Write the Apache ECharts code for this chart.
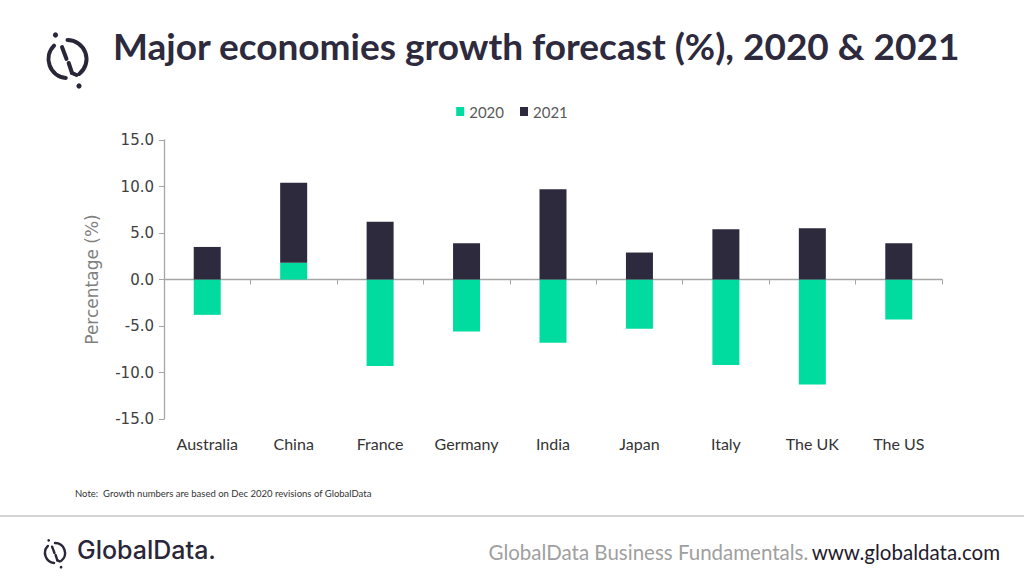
<!DOCTYPE html>
<html>
<head>
<meta charset="utf-8">
<script src="https://cdn.jsdelivr.net/npm/echarts@6/dist/echarts.min.js"></script>
<style>
html,body{margin:0;padding:0;background:#fff;}
#c{width:1024px;height:585px;}
</style>
</head>
<body>
<div id="c"></div>
<script>
var categories = ['Australia','China','France','Germany','India','Japan','Italy','The UK','The US'];
var values2020 = [-3.8, 1.8, -9.3, -5.6, -6.8, -5.3, -9.2, -11.3, -4.3];
var values2021 = [3.5, 8.6, 6.2, 3.9, 9.7, 2.9, 5.4, 5.5, 3.9];
var seriesNames = ['2020','2021'];
var yTicks = {min: -15, max: 15, interval: 5};

var GREEN = '#00dca0', DARK = '#2e2a3d', INK = '#2d2a3e';

function logo(cx, cy, r, lw){
  var col = '#2a2639';
  var d = r/19;
  return {
    type:'group', silent:true,
    children:[
      {type:'arc', shape:{cx:cx, cy:cy, r:r, startAngle:Math.PI*95/180, endAngle:Math.PI*225/180, clockwise:true}, style:{stroke:col, lineWidth:lw, fill:null, lineCap:'round'}},
      {type:'arc', shape:{cx:cx, cy:cy, r:r, startAngle:Math.PI*270/180, endAngle:Math.PI*412/180, clockwise:true}, style:{stroke:col, lineWidth:lw, fill:null, lineCap:'round'}},
      {type:'line', shape:{x1:cx-5.5*d, y1:cy-12*d, x2:cx-1*d, y2:cy+0*d}, style:{stroke:col, lineWidth:lw, lineCap:'round'}},
      {type:'line', shape:{x1:cx+1.2*d, y1:cy+4*d, x2:cx+4.5*d, y2:cy+14*d}, style:{stroke:col, lineWidth:lw, lineCap:'round'}},
      {type:'line', shape:{x1:cx+4.5*d, y1:cy+14*d, x2:cx+9*d, y2:cy+16*d}, style:{stroke:col, lineWidth:lw, lineCap:'round'}},
      {type:'circle', shape:{cx:cx-12*d, cy:cy-24*d, r:2.6*d}, style:{fill:col}},
      {type:'circle', shape:{cx:cx+11.5*d, cy:cy+27*d, r:2.6*d}, style:{fill:col}}
    ]
  };
}

var chart = echarts.init(document.getElementById('c'), null, {renderer:'svg'});
chart.setOption({
  animation:false,
  backgroundColor:'#fff',
  grid:{left:164, right:82, top:140, bottom:166, containLabel:false},
  legend:{
    data:seriesNames, top:99, left:'center',
    itemWidth:8, itemHeight:9, itemGap:16,
    icon:'rect',
    textStyle:{fontFamily:'Lato', fontSize:15, color:'#595959'}
  },
  xAxis:[
    {type:'category', data:categories, position:'bottom',
     axisLine:{onZero:true, lineStyle:{color:'#a6a6a6', width:1.3}},
     axisTick:{show:true, length:5, lineStyle:{color:'#a6a6a6'}},
     axisLabel:{show:false}},
    {type:'category', data:categories, position:'bottom', offset:0,
     axisLine:{show:false, onZero:false}, axisTick:{show:false},
     axisLabel:{show:true, margin:16, fontFamily:'Lato', fontSize:16, color:'#333333'}}
  ],
  yAxis:{
    type:'value', min:yTicks.min, max:yTicks.max, interval:yTicks.interval,
    name:'Percentage (%)', nameLocation:'middle', nameGap:64, nameRotate:90,
    nameTextStyle:{fontFamily:'DejaVu Sans', fontSize:17, color:'#7f7f7f'},
    axisLine:{show:true, lineStyle:{color:'#a6a6a6', width:1.3}},
    axisTick:{show:true, length:5, lineStyle:{color:'#a6a6a6'}},
    splitLine:{show:false},
    axisLabel:{margin:10, fontFamily:'DejaVu Sans', fontSize:15, color:'#404040',
      formatter:function(v){return v.toFixed(1);}}
  },
  series:[
    {name:seriesNames[0], type:'bar', stack:'g', data:values2020, barWidth:27, itemStyle:{color:GREEN}},
    {name:seriesNames[1], type:'bar', stack:'g', data:values2021, barWidth:27, itemStyle:{color:DARK}}
  ],
  graphic:[
    logo(67.5, 59, 19, 4),
    {type:'text', left:113, top:27, silent:true,
     style:{text:'Major economies growth forecast (%), 2020 & 2021', fontFamily:'Lato', fontWeight:'bold', fontSize:37, fill:INK}},
    {type:'text', left:75, top:488, silent:true,
     style:{text:'Note:  Growth numbers are based on Dec 2020 revisions of GlobalData', fontFamily:'Lato', fontSize:9.5, fill:'#333333'}},
    {type:'rect', silent:true, shape:{x:0, y:515, width:1024, height:2}, style:{fill:'#d4d4d4'}},
    logo(55, 553, 10, 2.4),
    {type:'text', left:77, top:537, silent:true,
     style:{text:'GlobalData.', fontFamily:'Inter', fontWeight:500, fontSize:25, fill:'#2a2639'}},
    {type:'text', right:24, top:541, silent:true,
     style:{text:'{g|GlobalData Business Fundamentals.} {d|www.globaldata.com}',
       rich:{g:{fontFamily:'Lato', fontSize:20.5, fill:'#a0a0a0', color:'#a0a0a0'},
             d:{fontFamily:'Lato', fontSize:20.5, fill:'#1f1b2e', color:'#1f1b2e'}}}}
  ]
});
</script>
</body>
</html>
